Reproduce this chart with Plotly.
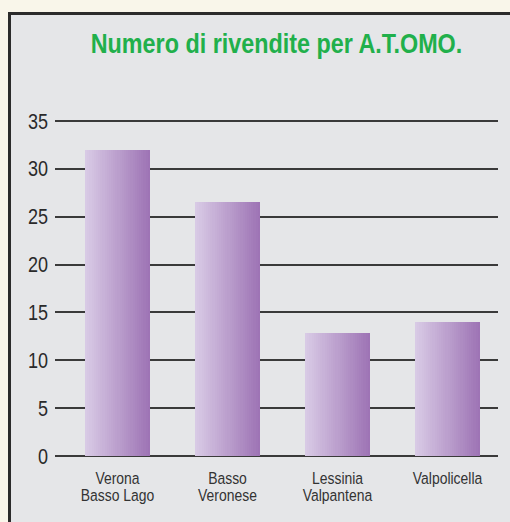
import plotly.graph_objects as go

categories = ["Verona<br>Basso Lago", "Basso<br>Veronese", "Lessinia<br>Valpantena", "Valpolicella"]
values = [32, 26.5, 12.8, 14]
y_ticks = [0, 5, 10, 15, 20, 25, 30, 35]
title_text = "Numero di rivendite per A.T.OMO."

W, H = 510, 522
Y_TOP = 35.2
PX_PER_UNIT = 335 / 35
MB = 66
MT = (H - MB) - Y_TOP * PX_PER_UNIT
ML, MR = 55, 12
PW = W - ML - MR
PH = H - MT - MB

FONT = "Liberation Sans, Arial, Helvetica, sans-serif"

left_rgb = (216, 202, 229)
right_rgb = (158, 116, 181)
N = 30
bar_w = 0.59

fig = go.Figure()
for i in range(N):
    t = i / (N - 1)
    c = tuple(round(left_rgb[k] + (right_rgb[k] - left_rgb[k]) * t) for k in range(3))
    fig.add_trace(go.Bar(
        x=categories, y=values,
        width=bar_w / N * 1.15,
        offset=-bar_w / 2 + i * bar_w / N,
        marker=dict(color="rgb(%d,%d,%d)" % c, line=dict(width=0)),
        showlegend=False,
        hoverinfo="skip" if i else "y",
    ))

def px_to_paper_x(px):
    return (px - ML) / PW

def px_to_paper_y(py):
    return (H - MB - py) / PH

fig.add_shape(type="rect", xref="paper", yref="paper",
              x0=px_to_paper_x(9.5), x1=px_to_paper_x(530),
              y0=px_to_paper_y(540), y1=px_to_paper_y(13.5),
              line=dict(color="#2b2b2b", width=3), fillcolor="#e5e6e8", layer="below")

fig.update_layout(
    width=W, height=H, autosize=False,
    margin=dict(l=ML, r=MR, t=MT, b=MB, pad=0),
    paper_bgcolor="#f9f6ea",
    plot_bgcolor="rgba(0,0,0,0)",
    barmode="overlay",
    bargap=0,
    title=dict(text="<b>" + title_text + "</b>", x=0.5, xref="paper",
               y=(H - 43) / H, yref="container", yanchor="middle", xanchor="center",
               font=dict(family=FONT, size=28.5, color="#21b04b")),
    xaxis=dict(range=[-0.568, 3.459], showgrid=False, showline=False, zeroline=False,
               ticks="", tickfont=dict(family=FONT, size=17, color="#333333"),
               ticklabelstandoff=10, fixedrange=True),
    yaxis=dict(range=[0, Y_TOP], tickvals=y_ticks, showgrid=True, gridcolor="#3a3a3a", gridwidth=1.5,
               zeroline=True, zerolinecolor="#3a3a3a", zerolinewidth=2, showline=False,
               ticks="", ticklabelstandoff=6,
               tickfont=dict(family=FONT, size=22, color="#2a2a2a"), fixedrange=True),
)

# Narrow (condensed) look: the installed fonts have no condensed face, so text is squeezed horizontally.
post = """
document.body.style.margin = '0';
document.body.style.overflow = 'hidden';
var gd = document.getElementById('{plot_id}');
function squash() {
  var sx = 0.82;
  gd.querySelectorAll('text.gtitle, g.xtick text, g.ytick text').forEach(function (t) {
    if (t.getAttribute('data-sq')) return;
    var x = parseFloat(t.getAttribute('x')) || 0;
    var tr = t.getAttribute('transform') || '';
    t.setAttribute('transform', tr + ' translate(' + x + ',0) scale(' + sx + ',1) translate(' + (-x) + ',0)');
    t.querySelectorAll('tspan.line').forEach(function (s, k) {
      if (k > 0) s.setAttribute('dy', '1.0em');
    });
    t.setAttribute('data-sq', '1');
  });
}
squash();
gd.on('plotly_afterplot', squash);
"""

fig.write_html("out.html", post_script=post, config={"displayModeBar": False})
